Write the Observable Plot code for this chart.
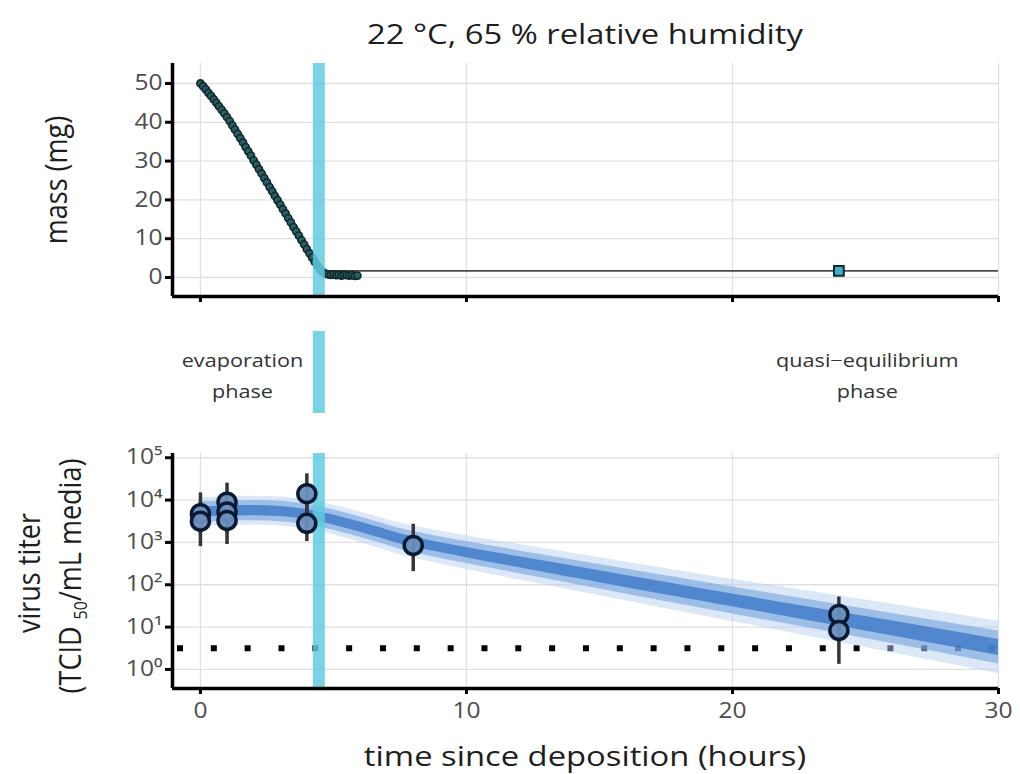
<!DOCTYPE html>
<html><head><meta charset="utf-8">
<script src="https://cdn.jsdelivr.net/npm/d3@7"></script>
<script src="https://cdn.jsdelivr.net/npm/@observablehq/plot@0.6"></script>
<style>
body{margin:0;background:#fff;font-family:"Open Sans",sans-serif;}
#root{position:relative;width:1020px;height:774px;overflow:hidden;background:#fff;}
#root svg{position:absolute;left:0;}
.lbl{position:absolute;transform:translate(-50%,-50%) scaleX(1.17);white-space:nowrap;color:#1e1e1e;font-size:28px;line-height:1;}
.rot{position:absolute;transform:translate(-50%,-50%) scaleX(1.17) rotate(-90deg);white-space:nowrap;color:#1e1e1e;font-size:27px;line-height:1;}
.rot sub{font-size:16px;vertical-align:-5px;margin-left:7px;}
</style></head><body><div id="root"></div>
<script>
// ---------- data ----------
const title = "22 °C, 65 % relative humidity";
const xLabel = "time since deposition (hours)";
const massLabel = "mass (mg)";
const xDomain = [-1.05, 30];
const xTicks = [0, 10, 20, 30];
const massTicks = [0, 10, 20, 30, 40, 50];
const titerTicks = [1, 10, 100, 1000, 10000, 100000];
const titerTickLabels = ["10⁰", "10¹", "10²", "10³", "10⁴", "10⁵"];

const massTime = [0.0,0.1,0.2,0.3,0.4,0.5,0.6,0.7,0.8,0.9,1.0,1.1,1.2,1.3,1.4,1.5,1.6,1.7,1.8,1.9,
  2.0,2.1,2.2,2.3,2.4,2.5,2.6,2.7,2.8,2.9,3.0,3.1,3.2,3.3,3.4,3.5,3.6,3.7,3.8,3.9,
  4.0,4.1,4.2,4.3,4.4,4.5,4.6,4.7,4.8,4.9,5.0,5.1,5.2,5.3,5.4,5.5,5.6,5.7,5.8,5.9];
const massValue = [50.0,49.3,48.5,47.6,46.8,45.9,45.0,44.1,43.2,42.3,41.3,40.3,39.2,38.1,37.0,35.9,34.8,33.6,32.5,31.4,
  30.2,29.1,27.9,26.8,25.6,24.5,23.3,22.2,21.0,19.9,18.8,17.6,16.5,15.3,14.2,13.0,11.9,10.8,9.6,8.5,
  7.3,6.2,5.1,4.0,3.0,2.1,1.4,1.0,0.8,0.7,0.8,0.6,0.7,0.5,0.7,0.6,0.5,0.6,0.4,0.5];
const eqMass = 1.7;
const eqStart = 4.7;
const squareTime = [24];
const squareMass = [1.7];
const dryTime = 4.45;

const phaseLabelX = [1.58, 25.07];
const phaseLabels = ["evaporation\nphase", "quasi−equilibrium\nphase"];

const titerTime  = [0, 0, 1, 1, 1, 4, 4, 8, 24, 24];
const titerLog   = [3.68, 3.50, 3.95, 3.72, 3.52, 4.15, 3.45, 2.93, 1.30, 0.92];
const titerLogLo = [3.20, 2.90, 3.50, 3.20, 2.95, 3.70, 3.02, 2.31, 0.85, 0.12];
const titerLogHi = [4.17, 3.95, 4.40, 4.20, 4.00, 4.62, 3.90, 3.43, 1.71, 1.35];
const lodLog = 0.5;

const bandTime = [0, 1, 2, 3, 4, 5, 6, 7, 8, 10, 12, 15, 20, 25, 30];
const bandCoreLo  = [3.60,3.62,3.63,3.61,3.54,3.41,3.24,3.06,2.89,2.64,2.40,2.05,1.48,0.91,0.33];
const bandCoreHi  = [3.84,3.86,3.87,3.85,3.78,3.65,3.48,3.30,3.13,2.88,2.66,2.33,1.78,1.25,0.71];
const bandMidLo   = [3.48,3.50,3.51,3.49,3.42,3.29,3.12,2.94,2.76,2.50,2.26,1.90,1.31,0.73,0.13];
const bandMidHi   = [3.96,3.98,3.99,3.97,3.90,3.77,3.60,3.42,3.26,3.02,2.80,2.48,1.95,1.43,0.91];
const bandOuterLo = [3.38,3.40,3.41,3.39,3.32,3.18,3.00,2.81,2.63,2.36,2.11,1.74,1.13,0.52,-0.10];
const bandOuterHi = [4.06,4.08,4.09,4.07,4.00,3.88,3.72,3.55,3.39,3.16,2.95,2.64,2.13,1.64,1.14];

// ---------- styles ----------
const cyan = "#5fcbe0";
const gridColor = "#e0e0e0";
const textStretch = 1.17;
const font = {fontFamily: "'Open Sans', sans-serif", background: "transparent", overflow: "visible"};
const root = document.getElementById("root");

function stretchText(svg) {
  svg.querySelectorAll("text").forEach(t => {
    const x = +t.getAttribute("x") || 0, y = +t.getAttribute("y") || 0;
    const tr = t.getAttribute("transform") || "";
    t.setAttribute("transform", `${tr} translate(${x},${y}) scale(${textStretch},1) translate(${-x},${-y})`);
  });
}
function place(svg, top) { stretchText(svg); svg.style.top = top + "px"; root.appendChild(svg); }
function div(cls, html, x, y) {
  const d = document.createElement("div"); d.className = cls; d.innerHTML = html;
  d.style.left = x + "px"; d.style.top = y + "px"; root.appendChild(d);
}

// ---------- top panel: mass ----------
const massData = massTime.map((t, i) => ({t, m: massValue[i]}));
const yMassDomain = [-4.9, 55.15];
const topPlot = Plot.plot({
  width: 1020, height: 260, marginLeft: 172, marginRight: 22, marginTop: 13, marginBottom: 14,
  style: font,
  x: {domain: xDomain},
  y: {domain: yMassDomain},
  marks: [
    Plot.gridX({ticks: xTicks, stroke: gridColor, strokeOpacity: 1, strokeWidth: 1.3}),
    Plot.gridY({ticks: massTicks, stroke: gridColor, strokeOpacity: 1, strokeWidth: 1.3}),
    Plot.ruleY([eqMass], {x1: eqStart, x2: xDomain[1], stroke: "#4a4a4a", strokeWidth: 1.8}),
    Plot.dot(massData, {x: "t", y: "m", r: 3.6, fill: "#2a5f66", stroke: "#11282c", strokeWidth: 1.6}),
    Plot.dot(squareTime.map((t, i) => ({t, m: squareMass[i]})), {x: "t", y: "m", symbol: "square", r: 5.5, fill: "#3ab4c6", stroke: "#10282c", strokeWidth: 2}),
    Plot.ruleX([dryTime], {stroke: cyan, strokeWidth: 12, strokeOpacity: 0.85}),
    Plot.axisY({ticks: massTicks, tickSize: 7, tickPadding: 3, stroke: "black", strokeWidth: 3, fill: "#4d4d4d", fontSize: 21, label: null}),
    Plot.axisX({ticks: xTicks, tickSize: 6, stroke: "black", strokeWidth: 3, tickFormat: () => "", label: null}),
    Plot.ruleX([xDomain[0]], {stroke: "black", strokeWidth: 3.5}),
    Plot.ruleY([yMassDomain[0]], {stroke: "black", strokeWidth: 3.5})
  ]
});
place(topPlot, 50);

// ---------- middle strip: phase labels ----------
const midPlot = Plot.plot({
  width: 1020, height: 82, marginLeft: 172, marginRight: 22, marginTop: 0, marginBottom: 0,
  style: font,
  x: {domain: xDomain, axis: null},
  marks: [
    Plot.ruleX([dryTime], {stroke: cyan, strokeWidth: 12, strokeOpacity: 0.85}),
    Plot.text(phaseLabelX.map((x, i) => ({x, label: phaseLabels[i]})), {x: "x", text: "label", fontSize: 18.5, fill: "#333", lineHeight: 1.68})
  ]
});
place(midPlot, 331);

// ---------- bottom panel: virus titer ----------
const titerData = titerTime.map((t, i) => ({t, v: titerLog[i], lo: titerLogLo[i], hi: titerLogHi[i]}));
const bandData = bandTime.map((t, i) => ({t,
  cLo: bandCoreLo[i], cHi: bandCoreHi[i], mLo: bandMidLo[i], mHi: bandMidHi[i], oLo: bandOuterLo[i], oHi: bandOuterHi[i]}));
const yTiterDomain = [10 ** -0.45, 10 ** 5.1];
const botPlot = Plot.plot({
  width: 1020, height: 300, marginLeft: 172, marginRight: 22, marginTop: 13, marginBottom: 52,
  style: font,
  x: {domain: xDomain},
  y: {type: "log", domain: yTiterDomain},
  marks: [
    Plot.gridX({ticks: xTicks, stroke: gridColor, strokeOpacity: 1, strokeWidth: 1.3}),
    Plot.gridY({ticks: titerTicks, stroke: gridColor, strokeOpacity: 1, strokeWidth: 1.3}),
    Plot.ruleY([10 ** lodLog], {x1: xDomain[0], x2: xDomain[1], stroke: "black", strokeWidth: 6, strokeDasharray: "6 27.83", strokeDashoffset: 28.83}),
    Plot.areaY(bandData, {x: "t", y1: d => 10 ** d.oLo, y2: d => 10 ** d.oHi, fill: "#b9d0ef", fillOpacity: 0.5, curve: "natural"}),
    Plot.areaY(bandData, {x: "t", y1: d => 10 ** d.mLo, y2: d => 10 ** d.mHi, fill: "#6a9ddb", fillOpacity: 0.55, curve: "natural"}),
    Plot.areaY(bandData, {x: "t", y1: d => 10 ** d.cLo, y2: d => 10 ** d.cHi, fill: "#3874c6", fillOpacity: 0.75, curve: "natural"}),
    Plot.ruleX([dryTime], {stroke: cyan, strokeWidth: 12, strokeOpacity: 0.85}),
    Plot.ruleX(titerData, {x: "t", y1: d => 10 ** d.lo, y2: d => 10 ** d.hi, stroke: "#353535", strokeWidth: 3.5}),
    Plot.dot(titerData, {x: "t", y: d => 10 ** d.v, r: 9, fill: "#6a8fbd", fillOpacity: 0.95, stroke: "#0b1a33", strokeWidth: 3.5}),
    Plot.axisY({ticks: titerTicks, tickFormat: d => titerTickLabels[titerTicks.indexOf(d)], tickSize: 7, tickPadding: 3, stroke: "black", strokeWidth: 3, fill: "#4d4d4d", fontSize: 21, label: null}),
    Plot.axisX({ticks: xTicks, tickSize: 6, tickPadding: 9, stroke: "black", strokeWidth: 3, fill: "#4d4d4d", fontSize: 21, label: null}),
    Plot.ruleX([xDomain[0]], {stroke: "black", strokeWidth: 3.5}),
    Plot.ruleY([yTiterDomain[0]], {stroke: "black", strokeWidth: 3.5})
  ]
});
place(botPlot, 440);

// ---------- text ----------
div("lbl", title, 585, 33);
div("lbl", xLabel, 585, 755);
div("rot", massLabel, 55, 180);
div("rot", "virus titer", 28, 573);
div("rot", "(TCID<sub>50</sub>/mL media)", 71, 576);
</script></body></html>
